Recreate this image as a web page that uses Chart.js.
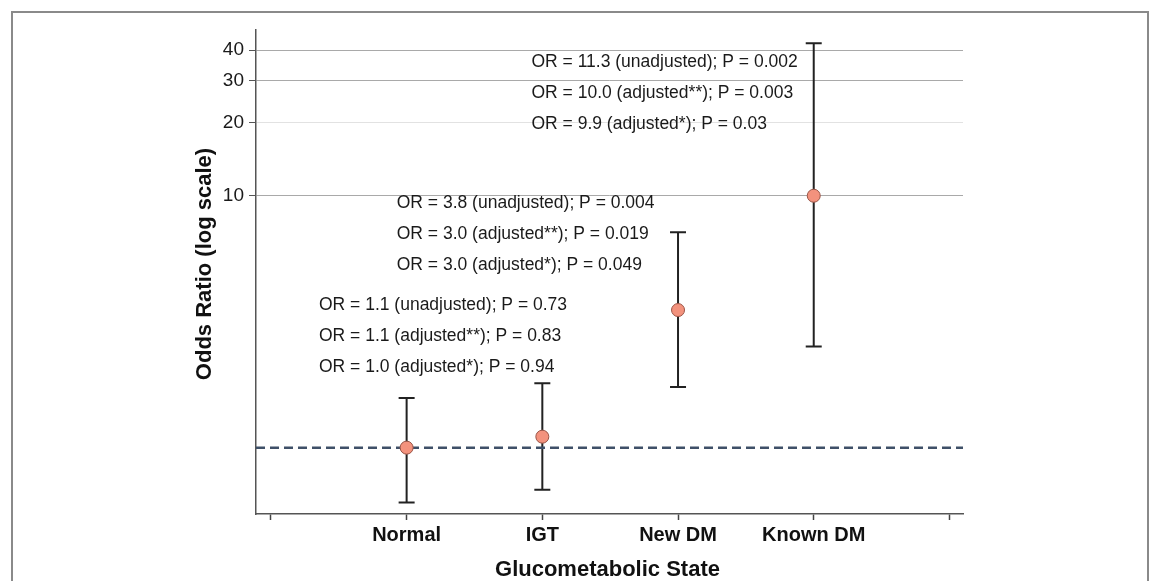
<!DOCTYPE html>
<html>
<head>
<meta charset="utf-8">
<script src="https://cdn.jsdelivr.net/npm/chart.js@4.4.1/dist/chart.umd.min.js"></script>
<style>
  html, body { margin: 0; padding: 0; background: #fff; }
  #wrap { position: relative; width: 1152px; height: 581px; overflow: hidden; }
  #frame { position: absolute; left: 11px; top: 11px; width: 1134px; height: 620px; border: 2px solid #8a8a8a; }
  canvas { position: absolute; left: 0; top: 0; }
</style>
</head>
<body>
<div id="wrap">
  <div id="frame"></div>
  <canvas id="myChart" width="1152" height="581"></canvas>
</div>
<script>
// values
const categories = ['Normal', 'IGT', 'New DM', 'Known DM'];
const oddsRatio = [0.91, 1.01, 3.37, 10.0];
const ciLow = [0.54, 0.61, 1.62, 2.38];
const ciHigh = [1.46, 1.68, 7.06, 42.7];
const refLine = 0.91;
const yTicks = [10, 20, 30, 40];
const notes = [
  ['OR = 1.1 (unadjusted); P = 0.73', 'OR = 1.1 (adjusted**); P = 0.83', 'OR = 1.0 (adjusted*); P = 0.94'],
  ['OR = 3.8 (unadjusted); P = 0.004', 'OR = 3.0 (adjusted**); P = 0.019', 'OR = 3.0 (adjusted*); P = 0.049'],
  ['OR = 11.3 (unadjusted); P = 0.002', 'OR = 10.0 (adjusted**); P = 0.003', 'OR = 9.9 (adjusted*); P = 0.03']
];
// where each block of notes starts, in axis units (x) and odds ratio (y)
const noteX = [0.354, 0.927, 1.92];
const noteY = [3.53, 9.30, 35.6];

const FONT = '"Liberation Sans", Arial, Helvetica, sans-serif';
const xMin = -0.11, xMax = 5.1;

var points = categories.map((c, i) => ({x: i + 1, y: oddsRatio[i]}));

var errorBars = {
    id: 'errorBars',
    beforeDatasetsDraw(chart) {
        const ctx = chart.ctx;
        const xs = chart.scales.x, ys = chart.scales.y;
        ctx.save();
        ctx.strokeStyle = '#222';
        ctx.lineWidth = 2;
        categories.forEach((c, i) => {
            const x = xs.getPixelForValue(i + 1);
            const lo = ys.getPixelForValue(ciLow[i]);
            const hi = ys.getPixelForValue(ciHigh[i]);
            ctx.beginPath();
            ctx.moveTo(x, lo); ctx.lineTo(x, hi);
            ctx.moveTo(x - 8, lo); ctx.lineTo(x + 8, lo);
            ctx.moveTo(x - 8, hi); ctx.lineTo(x + 8, hi);
            ctx.stroke();
        });
        ctx.restore();
    }
};

var textBits = {
    id: 'textBits',
    afterDraw(chart) {
        const ctx = chart.ctx;
        const xs = chart.scales.x, ys = chart.scales.y;
        const area = chart.chartArea;
        ctx.save();
        ctx.fillStyle = '#1a1a1a';
        ctx.font = '17.5px ' + FONT;
        ctx.textAlign = 'left';
        ctx.textBaseline = 'middle';
        notes.forEach((lines, g) => {
            const x = xs.getPixelForValue(noteX[g]);
            const y = ys.getPixelForValue(noteY[g]);
            lines.forEach((t, k) => ctx.fillText(t, x, y + k * 31));
        });
        // axis titles
        ctx.fillStyle = '#111';
        ctx.font = 'bold 22px ' + FONT;
        ctx.textAlign = 'center';
        ctx.fillText('Glucometabolic State', (area.left + area.right) / 2 - 2, area.bottom + 56);
        ctx.translate(area.left - 51, (area.top + area.bottom) / 2 - 8);
        ctx.rotate(-Math.PI / 2);
        ctx.fillText('Odds Ratio (log scale)', 0, 0);
        ctx.restore();
    }
};

var ctx = document.getElementById('myChart').getContext('2d');
var myChart = new Chart(ctx, {
    type: 'scatter',
    data: {
        datasets: [{
            data: points,
            order: 0,
            backgroundColor: '#f3927d',
            borderColor: '#9a5446',
            borderWidth: 1,
            pointRadius: 6.5,
            pointHoverRadius: 6.5
        }, {
            type: 'line',
            order: 1,
            data: [{x: xMin, y: refLine}, {x: xMax, y: refLine}],
            borderColor: '#3f5068',
            borderWidth: 2.5,
            borderDash: [9, 5],
            pointRadius: 0,
            fill: false
        }]
    },
    options: {
        responsive: false,
        animation: false,
        events: [],
        layout: { padding: { top: 30, right: 189, left: 0, bottom: 0 } },
        plugins: { legend: { display: false }, tooltip: { enabled: false } },
        scales: {
            x: {
                type: 'linear',
                min: xMin,
                max: xMax,
                afterFit: s => { s.height = 67; },
                afterBuildTicks: s => { s.ticks = [0, 1, 2, 3, 4, 5].map(v => ({value: v})); },
                ticks: {
                    autoSkip: false,
                    maxRotation: 0,
                    padding: 3,
                    color: '#111',
                    font: { family: FONT, size: 20, weight: 'bold' },
                    callback: v => categories[v - 1] || ''
                },
                grid: { drawOnChartArea: false, tickLength: 6, tickColor: '#444', tickWidth: 1.5 },
                border: { color: '#555', width: 1.5 }
            },
            y: {
                type: 'logarithmic',
                min: 0.484,
                max: 48.4,
                afterFit: s => { s.width = 256; },
                afterBuildTicks: s => { s.ticks = yTicks.map(v => ({value: v})); },
                ticks: {
                    padding: 5,
                    color: '#1a1a1a',
                    font: { family: FONT, size: 19 },
                    callback: v => String(v)
                },
                grid: {
                    color: c => (c.tick && c.tick.value === 20) ? '#e2e2e2' : '#a9a9a9',
                    lineWidth: 1,
                    tickLength: 7,
                    tickColor: '#555'
                },
                border: { color: '#555', width: 1.5 }
            }
        }
    },
    plugins: [errorBars, textBits]
});
</script>
</body>
</html>
